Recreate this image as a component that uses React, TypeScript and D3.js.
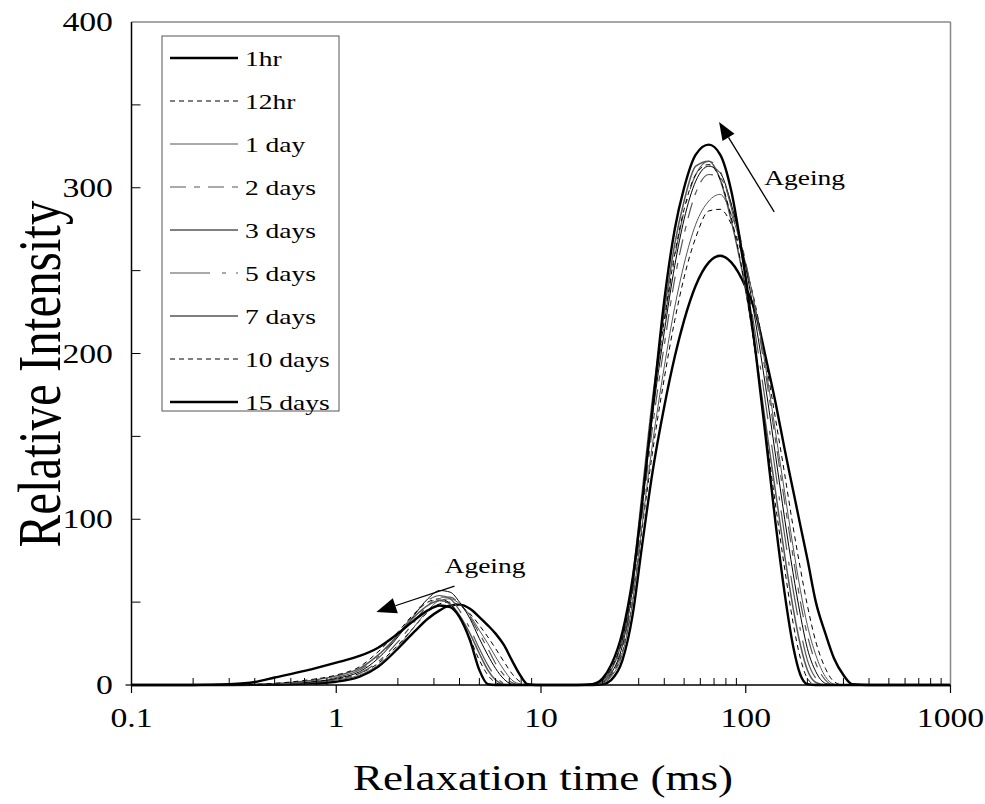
import React from "react";
import * as d3 from "d3";

// ---------- DATA ----------
const T = [0.1, 0.2, 0.3, 0.4, 0.5, 0.7, 1.0, 1.3, 1.6, 2.0, 2.4, 2.8, 3.2, 3.6, 4.0, 4.5, 5.0, 5.5,
  6.0, 6.6, 7.2, 8.0, 8.6, 9.5, 12, 15, 17.8, 20, 22, 25, 28, 31, 35, 40, 45, 50, 57, 66, 75, 85,
  100, 112, 125, 140, 155, 170, 185, 200, 220, 245, 270, 300, 331, 400, 1000];

const hr1 = [0, 0, 0, 0.1, 0.3, 0.8, 2, 5, 11, 22, 32, 40, 45, 48, 48.5, 46, 41, 36, 31, 24, 15, 5, 0.5, 0,
  0, 0, 0, 0.5, 3, 15, 42, 82, 128, 168, 198, 220, 241, 255, 259, 255, 240, 224, 198, 170, 142, 118, 96, 76,
  50, 31, 16, 6, 0.5, 0, 0];
const hr12 = [0, 0, 0, 0.2, 0.5, 1.5, 3.5, 7, 13, 24, 35, 44, 49, 50, 48, 43, 36, 29, 22, 14, 7, 1.5, 0, 0,
  0, 0, 0, 1.5, 6, 20, 50, 92, 140, 185, 220, 246, 270, 286, 287, 278, 252, 228, 196, 160, 127, 96, 70, 48,
  26, 10, 2, 0, 0, 0, 0];
const day1 = [0, 0, 0, 0.1, 0.4, 1.2, 3, 6, 12, 23, 35, 45, 51, 52, 49, 42, 33, 25, 17, 9, 3, 0.5, 0, 0,
  0, 0, 0, 1, 5, 19, 50, 94, 145, 192, 228, 254, 278, 292, 296, 284, 254, 226, 192, 152, 116, 84, 57, 36,
  18, 5, 0.5, 0, 0, 0, 0];
const day2 = [0, 0, 0, 0.1, 0.4, 1.2, 3.5, 7, 14, 26, 38, 48, 53, 53, 49, 41, 31, 22, 13, 6, 1.5, 0, 0, 0,
  0, 0, 0, 1.5, 6, 22, 55, 100, 155, 205, 245, 272, 297, 308, 306, 290, 255, 224, 188, 147, 110, 78, 50, 30,
  13, 3, 0, 0, 0, 0, 0];
const day3 = [0, 0, 0, 0.2, 0.5, 1.5, 4, 8, 16, 29, 42, 52, 57, 56, 50, 40, 28, 18, 10, 3.5, 0.5, 0, 0, 0,
  0, 0, 0, 2, 7, 24, 58, 105, 162, 213, 253, 281, 304, 313, 309, 290, 252, 218, 180, 138, 100, 68, 42, 22,
  8, 1, 0, 0, 0, 0, 0];
const day5 = [0, 0, 0, 0.2, 0.6, 1.8, 4.5, 9, 17, 30, 43, 51, 54, 52, 45, 34, 22, 12, 5, 1, 0, 0, 0, 0,
  0, 0, 0, 2, 8, 26, 60, 108, 166, 218, 258, 286, 308, 316, 310, 288, 247, 210, 170, 128, 90, 58, 33, 15,
  4, 0, 0, 0, 0, 0, 0];
const day7 = [0, 0, 0, 0.3, 0.8, 2.2, 5.5, 10, 18, 30, 41, 48, 51, 49, 42, 31, 19, 9, 3, 0.3, 0, 0, 0, 0,
  0, 0, 0.3, 3, 9, 28, 64, 113, 172, 225, 266, 292, 313, 316, 305, 280, 238, 200, 158, 116, 78, 47, 24, 9,
  1.5, 0, 0, 0, 0, 0, 0];
const day10 = [0, 0, 0, 0.4, 1, 2.8, 6, 11, 20, 32, 43, 50, 52, 49, 41, 28, 15, 6, 1.5, 0, 0, 0, 0, 0,
  0, 0, 0.3, 3, 10, 28, 62, 110, 168, 220, 260, 287, 308, 314, 305, 282, 238, 198, 153, 108, 70, 38, 16, 4,
  0, 0, 0, 0, 0, 0, 0];
const day15 = [0, 0, 0.5, 1.8, 4.5, 8.5, 13.5, 17.5, 22.5, 31, 39, 45, 48, 47, 41, 27, 9, 0.5, 0, 0, 0, 0, 0, 0,
  0, 0, 0.5, 4, 12, 32, 64, 107, 166, 232, 275, 300, 320, 326, 320, 298, 245, 200, 150, 97, 55, 24, 6, 0.5,
  0, 0, 0, 0, 0, 0, 0];

const seriesNames = ["1hr", "12hr", "1 day", "2 days", "3 days", "5 days", "7 days", "10 days", "15 days"];
const seriesValues = [hr1, hr12, day1, day2, day3, day5, day7, day10, day15];

const xTickValues = [0.1, 1, 10, 100, 1000];
const xTickLabels = ["0.1", "1", "10", "100", "1000"];
const yTickValues = [0, 100, 200, 300, 400];
const yTickLabels = ["0", "100", "200", "300", "400"];

// ---------- STYLES ----------
const seriesStyles = [
  { stroke: "#000", width: 2.4, dash: "" },
  { stroke: "#000", width: 1, dash: "5,4" },
  { stroke: "#555", width: 1, dash: "" },
  { stroke: "#555", width: 1.2, dash: "16,8,6,8" },
  { stroke: "#000", width: 1, dash: "" },
  { stroke: "#555", width: 1.2, dash: "40,12,4,10" },
  { stroke: "#555", width: 1.5, dash: "" },
  { stroke: "#000", width: 1, dash: "5,4" },
  { stroke: "#000", width: 2.4, dash: "" },
];

const FONT = "'Liberation Serif', 'Times New Roman', Times, serif";
const SX = 1.25;

function ST({ x, y, size, anchor = "start", rot = 0, sx = SX, children }: any) {
  return (
    <text
      transform={`translate(${x},${y}) scale(${sx},1) rotate(${rot})`}
      fontSize={size}
      fontFamily={FONT}
      textAnchor={anchor}
      fill="#000"
    >
      {children}
    </text>
  );
}

function Arrow({ x1, y1, x2, y2, head = 18, half = 7 }: any) {
  const dx = x2 - x1, dy = y2 - y1;
  const L = Math.sqrt(dx * dx + dy * dy);
  const ux = dx / L, uy = dy / L;
  const bx = x2 - ux * head, by = y2 - uy * head;
  const px = -uy, py = ux;
  const pts = `${x2},${y2} ${bx + px * half},${by + py * half} ${bx - px * half},${by - py * half}`;
  return (
    <g>
      <line x1={x1} y1={y1} x2={bx} y2={by} stroke="#000" strokeWidth={1.3} />
      <polygon points={pts} fill="#000" />
    </g>
  );
}

export default function App() {
  const W = 985, H = 804;
  const left = 131.5, right = 950.5, top = 22, bottom = 685;
  const x = d3.scaleLog().domain([0.1, 1000]).range([left, right]);
  const y = d3.scaleLinear().domain([0, 400]).range([bottom, top]);

  const line = d3
    .line<number>()
    .x((_, i) => x(T[i]))
    .y((d) => y(d))
    .curve(d3.curveMonotoneX);

  const minorX = x.ticks().filter((t) => !xTickValues.some((v) => Math.abs(v - t) / v < 1e-6));
  const yMinor = d3.range(50, 400, 50);

  // annotations (data coordinates)
  const mainArrow = { t1: 137.7, v1: 285.4, t2: 74.1, v2: 339.7 };
  const smallArrow = { t1: 3.78, v1: 59.7, t2: 1.57, v2: 44 };

  const legendX = 162, legendY = 36, legendW = 177, legendH = 375;
  const rowStep = 43;

  return (
    <svg width={W} height={H} style={{ position: "absolute", left: 0, top: 0, background: "#fff" }}>
      <rect x={0} y={0} width={W} height={H} fill="#fff" />

      {/* series */}
      <g fill="none">
        {seriesValues.map((vals, i) => (
          <path
            key={i}
            d={line(vals) || ""}
            stroke={seriesStyles[i].stroke}
            strokeWidth={seriesStyles[i].width}
            strokeDasharray={seriesStyles[i].dash || undefined}
          />
        ))}
      </g>

      {/* frame */}
      <line x1={left} y1={top} x2={right} y2={top} stroke="#888" strokeWidth={1.5} />
      <line x1={right} y1={top} x2={right} y2={bottom} stroke="#888" strokeWidth={1.5} />
      <line x1={left} y1={top} x2={left} y2={bottom} stroke="#000" strokeWidth={1.5} />
      <line x1={left} y1={bottom} x2={right} y2={bottom} stroke="#000" strokeWidth={1.5} />

      {/* x ticks */}
      {xTickValues.map((t) => (
        <line key={"xm" + t} x1={x(t)} x2={x(t)} y1={bottom} y2={bottom + 8} stroke="#000" strokeWidth={1.2} />
      ))}
      {minorX.map((t) => (
        <line key={"xn" + t} x1={x(t)} x2={x(t)} y1={bottom} y2={bottom - 7} stroke="#000" strokeWidth={1} />
      ))}
      {xTickValues.map((t, i) => (
        <ST key={"xl" + t} x={x(t)} y={bottom + 42} size={27} anchor="middle">
          {xTickLabels[i]}
        </ST>
      ))}

      {/* y ticks */}
      {yMinor.map((v) => (
        <line key={"yt" + v} x1={left} x2={left + 9} y1={y(v)} y2={y(v)} stroke="#000" strokeWidth={1} />
      ))}
      <line x1={left - 6} x2={left} y1={y(0)} y2={y(0)} stroke="#000" strokeWidth={1.2} />
      {yTickValues.map((v, i) => (
        <ST key={"yl" + v} x={113} y={y(v) + 9} size={27} anchor="end">
          {yTickLabels[i]}
        </ST>
      ))}

      {/* axis titles */}
      <ST x={543} y={790} size={36} anchor="middle">
        Relaxation time (ms)
      </ST>
      <ST x={60} y={374} size={49} anchor="middle" rot={-90}>
        Relative Intensity
      </ST>

      {/* legend */}
      <rect x={legendX} y={legendY} width={legendW} height={legendH} fill="#fff" stroke="#555" strokeWidth={1} />
      {seriesNames.map((name, i) => {
        const ry = 58 + i * rowStep;
        const st = seriesStyles[i];
        return (
          <g key={"lg" + i}>
            <line
              x1={170}
              x2={238}
              y1={ry}
              y2={ry}
              stroke={st.stroke}
              strokeWidth={st.width}
              strokeDasharray={st.dash || undefined}
            />
            <ST x={245} y={ry + 8} size={22}>
              {name}
            </ST>
          </g>
        );
      })}

      {/* annotations */}
      <Arrow
        x1={x(mainArrow.t1)}
        y1={y(mainArrow.v1)}
        x2={x(mainArrow.t2)}
        y2={y(mainArrow.v2)}
        head={18}
        half={7}
      />
      <ST x={x(123)} y={y(301.7)} size={22}>
        Ageing
      </ST>
      <Arrow
        x1={x(smallArrow.t1)}
        y1={y(smallArrow.v1)}
        x2={x(smallArrow.t2)}
        y2={y(smallArrow.v2)}
        head={20}
        half={8}
      />
      <ST x={x(3.38)} y={y(67.6)} size={22}>
        Ageing
      </ST>
    </svg>
  );
}
